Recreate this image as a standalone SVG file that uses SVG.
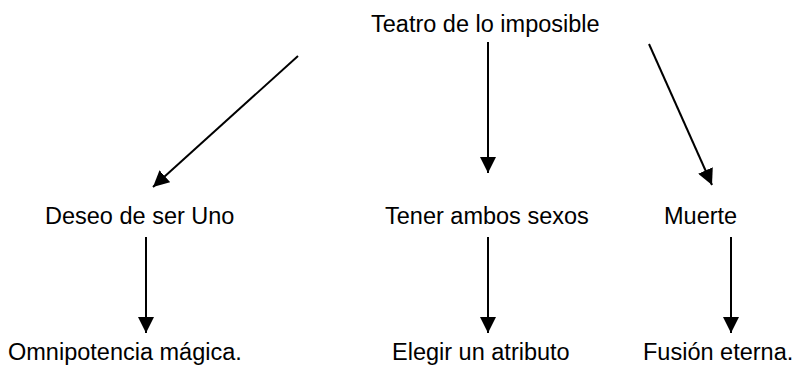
<svg xmlns="http://www.w3.org/2000/svg" width="796" height="367" viewBox="0 0 796 367">
<style>
text{font-family:"Liberation Sans",Arial,sans-serif;font-size:23.5px;fill:#000}
.c line{stroke:#000;stroke-width:2}
</style>
<defs>
<marker id="ah" markerWidth="16" markerHeight="16" refX="16" refY="8" orient="auto" markerUnits="userSpaceOnUse">
<path d="M0,0 L16,8 L0,16 Z" fill="#000"/>
</marker>
</defs>
<rect width="796" height="367" fill="#fff"/>
<g id="n-teatro"><text x="371" y="32">Teatro de lo imposible</text></g>
<g id="n-deseo"><text x="45" y="224">Deseo de ser Uno</text></g>
<g id="n-tener"><text x="385" y="224">Tener ambos sexos</text></g>
<g id="n-muerte"><text x="664" y="224">Muerte</text></g>
<g id="n-omni"><text x="8" y="360">Omnipotencia mágica.</text></g>
<g id="n-elegir"><text x="392" y="360">Elegir un atributo</text></g>
<g id="n-fusion"><text x="643" y="360">Fusión eterna.</text></g>
<g class="c" id="connectors">
<line x1="298" y1="56" x2="153" y2="187" marker-end="url(#ah)"/>
<line x1="488" y1="42" x2="488" y2="173" marker-end="url(#ah)"/>
<line x1="649" y1="44" x2="712" y2="185" marker-end="url(#ah)"/>
<line x1="146" y1="237" x2="146" y2="333" marker-end="url(#ah)"/>
<line x1="488" y1="237" x2="488" y2="333" marker-end="url(#ah)"/>
<line x1="731" y1="237" x2="731" y2="333" marker-end="url(#ah)"/>
</g>
</svg>
